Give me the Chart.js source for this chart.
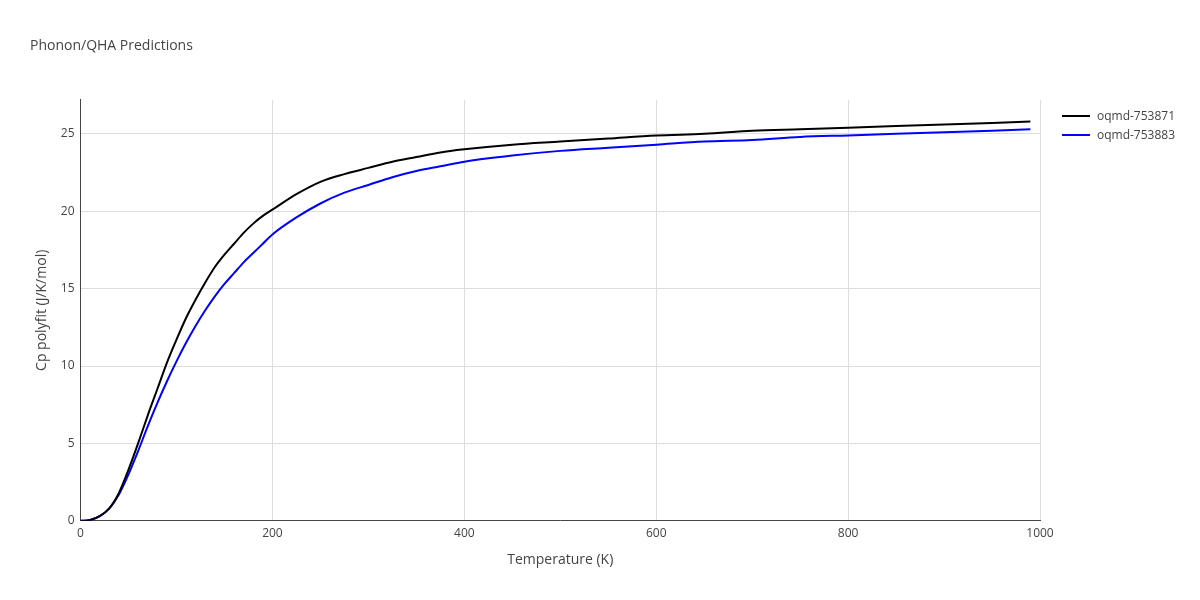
<!DOCTYPE html>
<html><head><meta charset="utf-8">
<script src="https://cdn.jsdelivr.net/npm/chart.js@4"></script>
<style>html,body{margin:0;padding:0;background:#fff}#w{position:relative;width:1200px;height:600px}
#lg{position:absolute;left:1062px;top:106px;font:12px "Open Sans",sans-serif;color:#444}
#lg div{display:flex;align-items:center;height:19px}#lg span{display:inline-block;width:28px;height:2px;margin-right:7px}</style>
</head><body><div id="w"><canvas id="c"></canvas><div id="lg"></div></div>
<script>
const temps=[0,10,20,30,40,50,60,70,80,90,100,110,120,130,140,150,160,170,180,190,200,225,250,275,300,325,350,375,400,450,500,550,600,650,700,750,800,850,900,950,990];
const cp753871=[0,0.05,0.3,0.8,1.8,3.3,5.0,6.8,8.5,10.2,11.7,13.1,14.3,15.4,16.4,17.2,17.9,18.6,19.2,19.7,20.1,21.1,21.9,22.4,22.8,23.2,23.5,23.8,24.0,24.3,24.5,24.7,24.9,25.0,25.2,25.3,25.4,25.5,25.6,25.7,25.8];
const cp753883=[0,0.05,0.3,0.8,1.7,3.0,4.5,6.1,7.6,9.0,10.3,11.5,12.6,13.6,14.5,15.3,16.0,16.7,17.3,17.9,18.5,19.6,20.5,21.2,21.7,22.2,22.6,22.9,23.2,23.6,23.9,24.1,24.3,24.5,24.6,24.8,24.9,25.0,25.1,25.2,25.3];
const xTicks=[0,200,400,600,800,1000];
const yTicks=[0,5,10,15,20,25];
Chart.defaults.font.family='"Open Sans", sans-serif';
Chart.defaults.color='#444';
const pts=a=>temps.map((t,i)=>({x:t,y:a[i]}));
const ds=[
{label:'oqmd-753871',data:pts(cp753871),borderColor:'#000',borderWidth:2,pointRadius:0,cubicInterpolationMode:'monotone'},
{label:'oqmd-753883',data:pts(cp753883),borderColor:'#0000ff',borderWidth:2,pointRadius:0,cubicInterpolationMode:'monotone'}];
document.getElementById('lg').innerHTML=ds.map(d=>`<div><span style="background:${d.borderColor}"></span>${d.label}</div>`).join('');
new Chart(document.getElementById('c'),{type:'line',
data:{datasets:ds},
options:{responsive:true,maintainAspectRatio:false,animation:false,
layout:{padding:{left:30,right:160,top:28,bottom:28}},
plugins:{title:{display:true,text:'Phonon/QHA Predictions',align:'start',font:{size:14,weight:'normal'},color:'#444',padding:{top:10,bottom:45}},
legend:{display:false},tooltip:{enabled:false}},
scales:{
x:{type:'linear',min:0,max:1000,afterBuildTicks:s=>{s.ticks=xTicks.map(v=>({value:v}))},
title:{display:true,text:'Temperature (K)',font:{size:14},color:'#444'},
grid:{color:'#ddd',drawTicks:false},border:{color:'#444'},ticks:{padding:6,font:{size:12},callback:v=>String(v)}},
y:{min:0,max:27.2,afterBuildTicks:s=>{s.ticks=yTicks.map(v=>({value:v}))},
title:{display:true,text:'Cp polyfit (J/K/mol)',font:{size:14},color:'#444'},
grid:{color:'#ddd',drawTicks:false},border:{color:'#444'},ticks:{padding:6,font:{size:12}}}}}});
</script></body></html>
